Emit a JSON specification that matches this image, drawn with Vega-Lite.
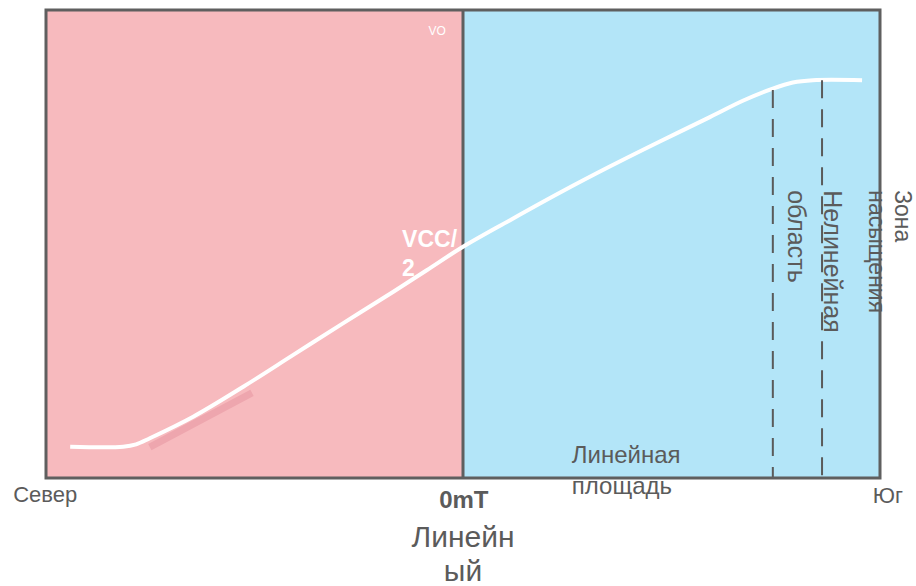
{
  "$schema": "https://vega.github.io/schema/vega-lite/v6.json",
  "width": 834,
  "height": 468,
  "autosize": {"type": "none"},
  "padding": {"left": 46, "top": 10, "right": 36, "bottom": 108},
  "background": "white",
  "config": {"view": {"stroke": null}, "font": "Liberation Sans"},
  "datasets": {
    "zones": [
      {"zone": "north", "x0": -100, "x1": 0, "y0": 0, "y1": 100},
      {"zone": "south", "x0": 0, "x1": 100, "y0": 0, "y1": 100}
    ],
    "curve": [
      {"b": -94.2, "v": 6.7},
      {"b": -81.5, "v": 6.7},
      {"b": -78.4, "v": 7.2},
      {"b": -75.1, "v": 8.5},
      {"b": -64.7, "v": 13.1},
      {"b": -52.7, "v": 19.5},
      {"b": -40.7, "v": 26.3},
      {"b": -28.7, "v": 33.1},
      {"b": -16.7, "v": 39.8},
      {"b": -8.7, "v": 44.4},
      {"b": 0, "v": 49.4},
      {"b": 11.3, "v": 55.1},
      {"b": 23.3, "v": 61.0},
      {"b": 35.3, "v": 66.6},
      {"b": 47.2, "v": 71.9},
      {"b": 59.2, "v": 77.1},
      {"b": 67.1, "v": 80.6},
      {"b": 74.3, "v": 83.2},
      {"b": 79.1, "v": 84.5},
      {"b": 83.9, "v": 85.0},
      {"b": 95.7, "v": 85.0}
    ],
    "shadow": [
      {"b": -75.1, "v": 6.6},
      {"b": -50.6, "v": 18.2}
    ],
    "dashes": [
      {"b": 74.3, "top": 82.9},
      {"b": 86.1, "top": 85.0}
    ],
    "labels": [
      {"g": "end", "t": "Север", "b": -100.2, "v": -5.1},
      {"g": "end", "t": "Юг", "b": 101.9, "v": -5.3},
      {"g": "lin", "t": "Линейная", "b": 26.1, "v": 3.2},
      {"g": "lin", "t": "площадь", "b": 26.1, "v": -3.4},
      {"g": "zero", "t": "0mT", "b": 0.2, "v": -6.4},
      {"g": "big", "t": "Линейн", "b": 0, "v": -14.7},
      {"g": "big", "t": "ый", "b": 0, "v": -22.0},
      {"g": "vo", "t": "VO", "b": -6.2, "v": 95.5},
      {"g": "vcc", "t": "VCC/", "b": -14.6, "v": 49.4},
      {"g": "vcc", "t": "2", "b": -14.6, "v": 43.2},
      {"g": "rot1", "t": "Зона", "b": 103.6, "v": 61.5},
      {"g": "rot1", "t": "насыщения", "b": 97.4, "v": 61.5},
      {"g": "rot2", "t": "Нелинейная", "b": 86.5, "v": 61.5},
      {"g": "rot2", "t": "область", "b": 77.9, "v": 61.5}
    ]
  },
  "layer": [
    {
      "data": {"name": "zones"},
      "mark": {"type": "rect"},
      "encoding": {
        "x": {"field": "x0", "type": "quantitative", "scale": {"domain": [-100, 100], "nice": false, "zero": false}, "axis": null},
        "x2": {"field": "x1"},
        "y": {"field": "y0", "type": "quantitative", "scale": {"domain": [0, 100], "nice": false, "zero": false}, "axis": null},
        "y2": {"field": "y1"},
        "color": {"field": "zone", "type": "nominal", "scale": {"domain": ["north", "south"], "range": ["#f7babe", "#b3e5f8"]}, "legend": null}
      }
    },
    {
      "data": {"name": "shadow"},
      "mark": {"type": "line", "color": "#eea6ae", "strokeWidth": 7, "strokeCap": "butt"},
      "encoding": {
        "x": {"field": "b", "type": "quantitative"},
        "y": {"field": "v", "type": "quantitative"}
      }
    },
    {
      "data": {"name": "zones"},
      "transform": [{"filter": "datum.zone === 'south'"}],
      "mark": {"type": "rule", "color": "#5f5f5f", "strokeWidth": 3},
      "encoding": {
        "x": {"field": "x0", "type": "quantitative"},
        "y": {"field": "y0", "type": "quantitative"},
        "y2": {"field": "y1"}
      }
    },
    {
      "data": {"name": "curve"},
      "mark": {"type": "line", "color": "#ffffff", "strokeWidth": 4, "interpolate": "catmull-rom"},
      "encoding": {
        "x": {"field": "b", "type": "quantitative"},
        "y": {"field": "v", "type": "quantitative"}
      }
    },
    {
      "data": {"name": "dashes"},
      "mark": {"type": "rule", "color": "#5a5a5a", "strokeWidth": 2, "strokeDash": [18, 11]},
      "encoding": {
        "x": {"field": "b", "type": "quantitative"},
        "y": {"field": "top", "type": "quantitative"},
        "y2": {"datum": 0}
      }
    },
    {
      "data": {"values": [{"x0": -100, "x1": 100, "y0": 0, "y1": 100}]},
      "mark": {"type": "rect", "fill": null, "fillOpacity": 0, "stroke": "#5f5f5f", "strokeWidth": 3},
      "encoding": {
        "x": {"field": "x0", "type": "quantitative"},
        "x2": {"field": "x1"},
        "y": {"field": "y0", "type": "quantitative"},
        "y2": {"field": "y1"}
      }
    },
    {
      "data": {"name": "labels"},
      "transform": [{"filter": "datum.g === 'end'"}],
      "mark": {"type": "text", "fontSize": 22, "color": "#5b5b5b", "align": "center", "baseline": "alphabetic"},
      "encoding": {
        "x": {"field": "b", "type": "quantitative"},
        "y": {"field": "v", "type": "quantitative"},
        "text": {"field": "t"}
      }
    },
    {
      "data": {"name": "labels"},
      "transform": [{"filter": "datum.g === 'lin'"}],
      "mark": {"type": "text", "fontSize": 24, "color": "#5b5b5b", "align": "left", "baseline": "alphabetic"},
      "encoding": {
        "x": {"field": "b", "type": "quantitative"},
        "y": {"field": "v", "type": "quantitative"},
        "text": {"field": "t"}
      }
    },
    {
      "data": {"name": "labels"},
      "transform": [{"filter": "datum.g === 'zero'"}],
      "mark": {"type": "text", "fontSize": 24, "fontWeight": "bold", "color": "#5b5b5b", "align": "center", "baseline": "alphabetic"},
      "encoding": {
        "x": {"field": "b", "type": "quantitative"},
        "y": {"field": "v", "type": "quantitative"},
        "text": {"field": "t"}
      }
    },
    {
      "data": {"name": "labels"},
      "transform": [{"filter": "datum.g === 'big'"}],
      "mark": {"type": "text", "fontSize": 30, "color": "#5b5b5b", "align": "center", "baseline": "alphabetic"},
      "encoding": {
        "x": {"field": "b", "type": "quantitative"},
        "y": {"field": "v", "type": "quantitative"},
        "text": {"field": "t"}
      }
    },
    {
      "data": {"name": "labels"},
      "transform": [{"filter": "datum.g === 'vo'"}],
      "mark": {"type": "text", "fontSize": 12, "color": "#ffffff", "align": "center", "baseline": "middle"},
      "encoding": {
        "x": {"field": "b", "type": "quantitative"},
        "y": {"field": "v", "type": "quantitative"},
        "text": {"field": "t"}
      }
    },
    {
      "data": {"name": "labels"},
      "transform": [{"filter": "datum.g === 'vcc'"}],
      "mark": {"type": "text", "fontSize": 23, "fontWeight": "bold", "color": "#ffffff", "align": "left", "baseline": "alphabetic"},
      "encoding": {
        "x": {"field": "b", "type": "quantitative"},
        "y": {"field": "v", "type": "quantitative"},
        "text": {"field": "t"}
      }
    },
    {
      "data": {"name": "labels"},
      "transform": [{"filter": "datum.g === 'rot1'"}],
      "mark": {"type": "text", "fontSize": 23, "color": "#5b5b5b", "align": "left", "baseline": "alphabetic", "angle": 90},
      "encoding": {
        "x": {"field": "b", "type": "quantitative"},
        "y": {"field": "v", "type": "quantitative"},
        "text": {"field": "t"}
      }
    },
    {
      "data": {"name": "labels"},
      "transform": [{"filter": "datum.g === 'rot2'"}],
      "mark": {"type": "text", "fontSize": 25, "color": "#5b5b5b", "align": "left", "baseline": "alphabetic", "angle": 90},
      "encoding": {
        "x": {"field": "b", "type": "quantitative"},
        "y": {"field": "v", "type": "quantitative"},
        "text": {"field": "t"}
      }
    }
  ]
}
